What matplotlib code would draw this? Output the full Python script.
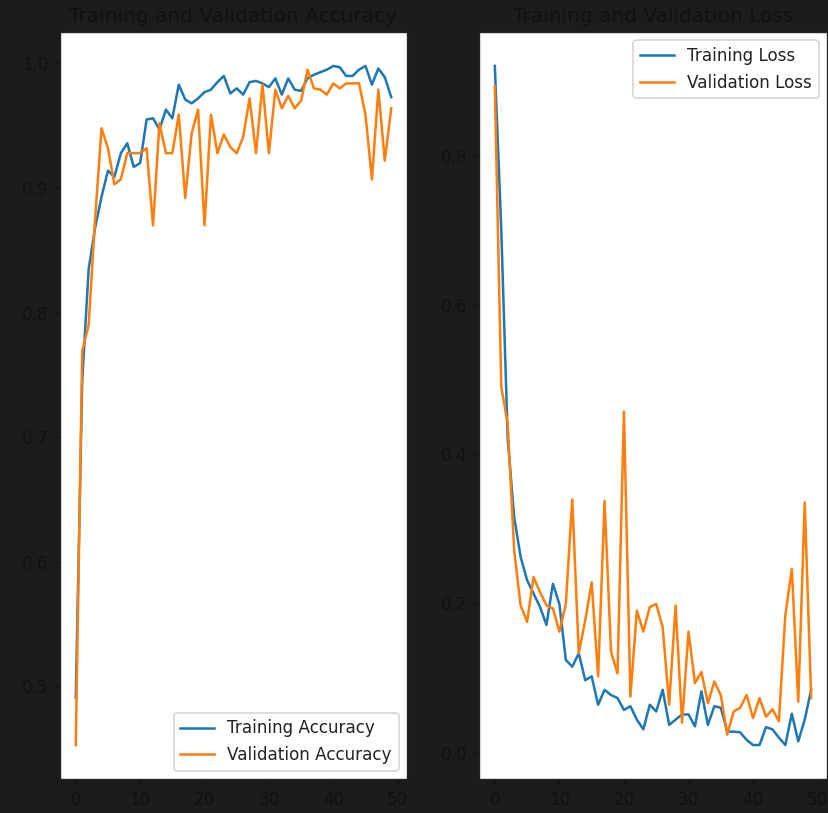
import matplotlib
matplotlib.use("Agg")
import matplotlib.pyplot as plt

epochs = list(range(50))

acc = [0.491, 0.745, 0.835, 0.868, 0.893, 0.914, 0.909, 0.928, 0.936, 0.917,
       0.920, 0.955, 0.956, 0.947, 0.963, 0.956, 0.983, 0.971, 0.968, 0.972,
       0.977, 0.979, 0.985, 0.990, 0.976, 0.980, 0.975, 0.985, 0.986, 0.984,
       0.981, 0.988, 0.975, 0.988, 0.979, 0.978, 0.988, 0.991, 0.993, 0.995,
       0.998, 0.997, 0.990, 0.990, 0.995, 0.998, 0.983, 0.996, 0.989, 0.973]

val_acc = [0.453, 0.769, 0.790, 0.875, 0.948, 0.932, 0.903, 0.907, 0.928, 0.928,
           0.928, 0.932, 0.870, 0.952, 0.928, 0.928, 0.959, 0.892, 0.944, 0.963,
           0.870, 0.959, 0.928, 0.943, 0.933, 0.928, 0.941, 0.972, 0.928, 0.983,
           0.928, 0.979, 0.964, 0.974, 0.964, 0.970, 0.995, 0.980, 0.979, 0.975,
           0.984, 0.980, 0.984, 0.984, 0.984, 0.959, 0.907, 0.979, 0.922, 0.964]

loss = [0.920, 0.700, 0.420, 0.315, 0.262, 0.231, 0.213, 0.195, 0.171, 0.226,
        0.199, 0.124, 0.115, 0.133, 0.097, 0.102, 0.064, 0.084, 0.077, 0.073,
        0.057, 0.062, 0.044, 0.031, 0.064, 0.055, 0.084, 0.037, 0.044, 0.051,
        0.051, 0.035, 0.082, 0.037, 0.062, 0.060, 0.028, 0.028, 0.027, 0.017,
        0.010, 0.010, 0.034, 0.031, 0.020, 0.010, 0.052, 0.015, 0.044, 0.084]

val_loss = [0.893, 0.490, 0.440, 0.270, 0.197, 0.175, 0.235, 0.215, 0.197, 0.193,
            0.162, 0.199, 0.339, 0.133, 0.177, 0.228, 0.102, 0.337, 0.135, 0.106,
            0.457, 0.075, 0.190, 0.162, 0.195, 0.199, 0.168, 0.064, 0.197, 0.040,
            0.162, 0.093, 0.108, 0.066, 0.095, 0.077, 0.024, 0.055, 0.060, 0.077,
            0.046, 0.073, 0.048, 0.058, 0.042, 0.184, 0.246, 0.068, 0.335, 0.073]

plt.rcParams.update({
    "text.color": "#111111",
    "axes.labelcolor": "#111111",
    "axes.titlecolor": "#111111",
    "xtick.color": "#111111",
    "ytick.color": "#111111",
    "xtick.labelcolor": "#111111",
    "ytick.labelcolor": "#111111",
    "axes.edgecolor": "#222222",
    "axes.facecolor": "white",
    "legend.facecolor": "white",
    "legend.edgecolor": "0.8",
})

DPI = 121
fig = plt.figure(figsize=(828 / DPI, 813 / DPI), dpi=DPI, facecolor="#1c1c1c")

ax1 = fig.add_axes([60 / 828, 1 - 779 / 813, 347 / 828, 747 / 813])
ax1.plot(epochs, acc, color="#1f77b4", label="Training Accuracy")
ax1.plot(epochs, val_acc, color="#ff7f0e", label="Validation Accuracy")
leg1 = ax1.legend(loc="lower right")
for t in leg1.get_texts():
    t.set_color("#222222")
ax1.set_title("Training and Validation Accuracy", color="#111111")

ax2 = fig.add_axes([479 / 828, 1 - 779 / 813, 348 / 828, 747 / 813])
ax2.plot(epochs, loss, color="#1f77b4", label="Training Loss")
ax2.plot(epochs, val_loss, color="#ff7f0e", label="Validation Loss")
leg2 = ax2.legend(loc="upper right")
for t in leg2.get_texts():
    t.set_color("#222222")
ax2.set_title("Training and Validation Loss", color="#111111")

fig.savefig("out.png", dpi=DPI, facecolor=fig.get_facecolor())
